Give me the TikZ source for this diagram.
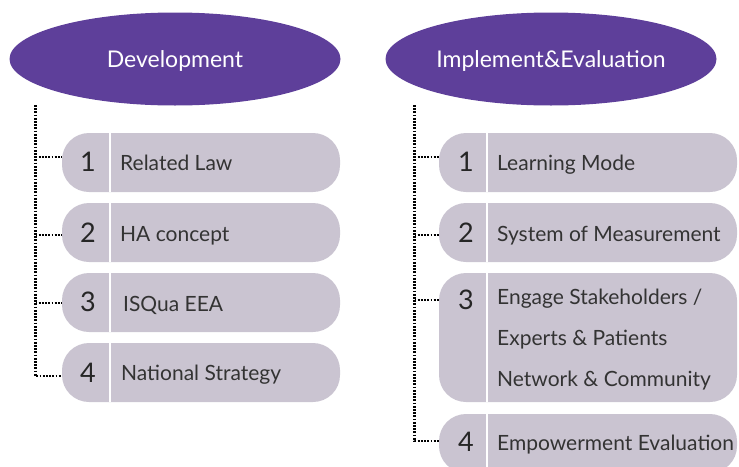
\documentclass[tikz,border=0pt]{standalone}
\usepackage{fontspec}
\setmainfont{Lato}
\usepackage{tikz}
\usepackage{xcolor}
\usetikzlibrary{positioning, shapes}

\definecolor{headpurple}{HTML}{5E3F9A}
\definecolor{itemgrey}{HTML}{CAC4D1}
\definecolor{textgrey}{HTML}{333333}

\begin{document}
\begin{tikzpicture}[
        x=1pt, y=-1pt,
        head/.style={ellipse, fill=headpurple, text=white, inner sep=0pt,
            minimum width=331pt, minimum height=93pt, text depth=0pt,
            font=\fontsize{23}{27}\selectfont},
        itembox/.style={rectangle, fill=itemgrey, rounded corners=27pt,
            minimum height=59pt, inner sep=0pt},
        num/.style={anchor=base, text=black!85, inner sep=0pt,
            font=\fontsize{27}{30}\selectfont},
        itemtext/.style={anchor=base west, text=textgrey, inner sep=0pt,
            font=\fontsize{21}{25}\selectfont},
        divider/.style={white, line width=2.5pt},
        conn/.style={black, line width=2.2pt, dash pattern=on 1.8pt off 1.4pt},
    ]
    \useasboundingbox (0,0) rectangle (739,466);

    \node[head] (dev) at (175,59) {Development};
    \node[head] (impl) at (551,59) {Implement\&Evaluation};

    \coordinate (ltop) at (35.5,105);
    \coordinate (ldiv) at (110,0);
    \coordinate (rtop) at (414.5,105);
    \coordinate (rdiv) at (487,0);

    % left column
    \node[itembox, minimum width=278pt] (d1) at (201,162.5) {};
    \node[itembox, minimum width=278pt] (d2) at (201,232.5) {};
    \node[itembox, minimum width=278pt] (d3) at (201,302.5) {};
    \node[itembox, minimum width=278pt] (d4) at (201,372.5) {};
    \foreach \b in {d1,d2,d3,d4}
        \draw[divider] (\b.north -| ldiv) -- (\b.south -| ldiv);

    \node[num] (d1n) at (88,171.5) {1};
    \node[num] (d2n) at (88,242.5) {2};
    \node[num] (d3n) at (88,311.5) {3};
    \node[num] (d4n) at (88,382.5) {4};
    \node[itemtext] (d1t) at (120,170) {Related Law};
    \node[itemtext] (d2t) at (120,241) {HA concept};
    \node[itemtext] (d3t) at (123,311) {ISQua EEA};
    \node[itemtext] (d4t) at (121,380) {National Strategy};

    \draw[conn] (ltop) |- (d4.west |- 0,376);
    \draw[conn] (ltop |- 0,157) -- (d1.west |- 0,157);
    \draw[conn] (ltop |- 0,235) -- (d2.west |- 0,235);
    \draw[conn] (ltop |- 0,303) -- (d3.west |- 0,303);

    % right column
    \node[itembox, minimum width=298pt] (i1) at (588,162.5) {};
    \node[itembox, minimum width=298pt] (i2) at (588,232.5) {};
    \node[itembox, minimum width=298pt, minimum height=129pt] (i3) at (588,337.5) {};
    \node[itembox, minimum width=298pt] (i4) at (588,443.5) {};
    \foreach \b in {i1,i2,i3,i4}
        \draw[divider] (\b.north -| rdiv) -- (\b.south -| rdiv);

    \node[num] (i1n) at (466,171.5) {1};
    \node[num] (i2n) at (466,242.5) {2};
    \node[num] (i3n) at (466,309) {3};
    \node[num] (i4n) at (466,451) {4};
    \node[itemtext] (i1t) at (497,170) {Learning Mode};
    \node[itemtext] (i2t) at (497,241) {System of Measurement};
    \node[itemtext] (i3t) at (497,304) {Engage Stakeholders /};
    \node[itemtext] (i3u) at (497,345) {Experts \& Patients};
    \node[itemtext] (i3v) at (497,386) {Network \& Community};
    \node[itemtext] (i4t) at (497,450) {Empowerment Evaluation};

    \draw[conn] (rtop) |- (i4.west |- 0,441);
    \draw[conn] (rtop |- 0,157) -- (i1.west |- 0,157);
    \draw[conn] (rtop |- 0,235) -- (i2.west |- 0,235);
    \draw[conn] (rtop |- 0,300) -- (i3.west |- 0,300);
\end{tikzpicture}
\end{document}
